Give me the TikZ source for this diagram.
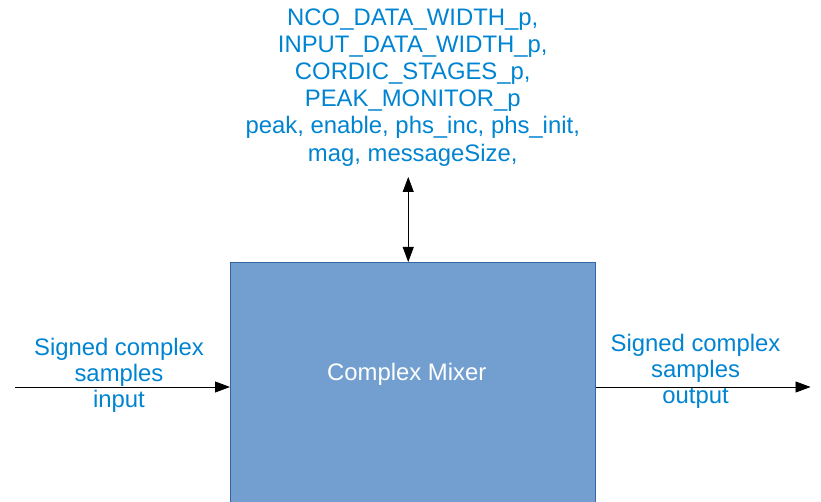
\documentclass[tikz,border=0pt]{standalone}
\usepackage{fontspec}
\setmainfont{Liberation Sans}
\usepackage{tikz}
\usetikzlibrary{arrows.meta,positioning}
\definecolor{mixfill}{HTML}{729FCF}
\definecolor{mixline}{HTML}{3465A4}
\definecolor{sigblue}{HTML}{0084D1}
\tikzset{
    block/.style={
           rectangle,
           draw=mixline, fill=mixfill,
           minimum width=273.75pt,
           minimum height=187.5pt,
           inner sep=0pt,
           },
    sig/.style={
           text=sigblue,
           align=center,
           font=\fontsize{17.9pt}{19.6pt}\selectfont,
           inner sep=0pt,
           },
    flow/.style={
           -{Triangle[length=11.25pt,width=8.25pt]},
           black, semithick,
           },
}

\begin{document}
\begin{tikzpicture}
    % keep the page as large as the reference
    \useasboundingbox (0,0) rectangle (615.75pt,-376.5pt);

    % the mixer block (runs off the bottom edge)
    \node[block,    	% layout (defined above)
    anchor=north west] (mixer) 	% placed by its top left corner
    at (172.5pt,-196.5pt) {};

    \node[sig, text=white] (mixname)
    at ([xshift=-4.5pt,yshift=-84pt]mixer.north) {Complex Mixer};

    % ports on both sides of the block
    \coordinate (inport) at ([yshift=-93.75pt]mixer.north west);
    \coordinate (outport) at ([yshift=-93.75pt]mixer.north east);
    \coordinate (insrc) at ([xshift=-161.25pt]inport);
    \coordinate (outdst) at ([xshift=161.25pt]outport);
    \coordinate (ctl) at ([xshift=-3.4pt,yshift=63.75pt]mixer.north);

    % parameters and registers above the block
    \node[sig,
    font=\fontsize{17.9pt}{20.4pt}\selectfont] (params)
    at ([yshift=131pt]mixer.north)
    {NCO\_DATA\_WIDTH\_p,\\
     INPUT\_DATA\_WIDTH\_p,\\
     CORDIC\_STAGES\_p,\\
     PEAK\_MONITOR\_p\\
     peak, enable, phs\_inc, phs\_init,\\
     mag, messageSize,};

    % labels of the sample streams
    \node[sig] (inlabel)
    at ([xshift=-83.25pt,yshift=8.5pt]inport)
    {Signed complex\\ samples\\ input};

    \node[sig] (outlabel)
    at ([xshift=75pt,yshift=11.5pt]outport)
    {Signed complex\\ samples\\ output};

    % draw the connectors
    \draw[flow] (insrc) -- (inport);
    \draw[flow] (outport) -- (outdst);
    \draw[flow, {Triangle[length=11.25pt,width=8.25pt]}-{Triangle[length=11.25pt,width=8.25pt]}]
        (ctl) -- (ctl |- mixer.north);
\end{tikzpicture}
\end{document}
